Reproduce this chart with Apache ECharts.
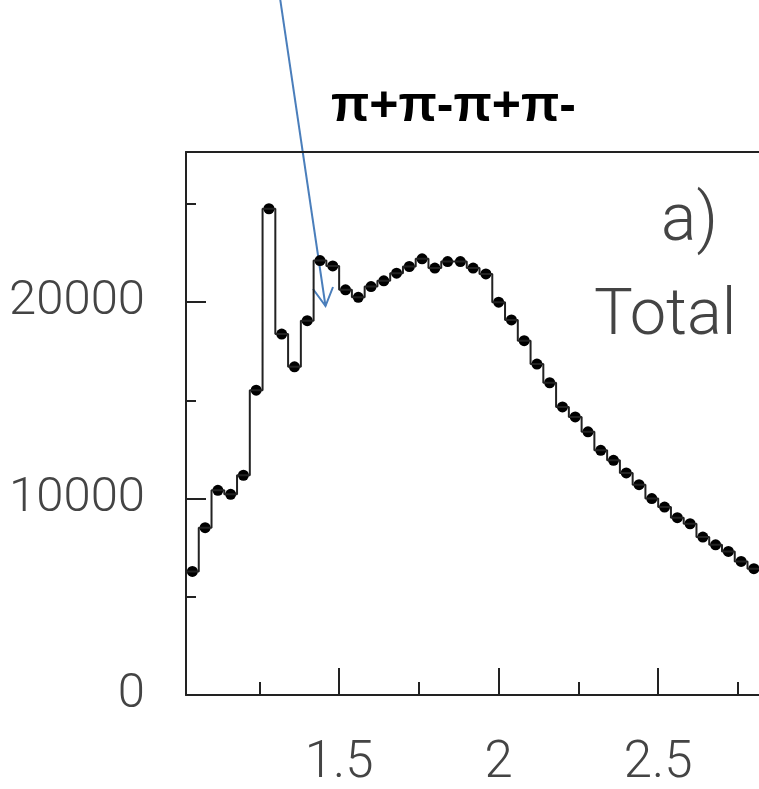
<!DOCTYPE html>
<html lang="en">
<head>
    <meta charset="UTF-8">
    <title>π+π-π+π- Total</title>
    <script src="https://cdn.jsdelivr.net/npm/echarts@6/dist/echarts.min.js"></script>
    <style>
        html, body { margin: 0; padding: 0; background: #fff; }
        #main { width: 759px; height: 789px; }
    </style>
</head>
<body>
<div id="main"></div>
<script type="text/javascript">
    // bin centres (GeV), bin width 0.04
    var binCenters = [1.04, 1.08, 1.12, 1.16, 1.20, 1.24, 1.28, 1.32, 1.36, 1.40,
                      1.44, 1.48, 1.52, 1.56, 1.60, 1.64, 1.68, 1.72, 1.76, 1.80,
                      1.84, 1.88, 1.92, 1.96, 2.00, 2.04, 2.08, 2.12, 2.16, 2.20,
                      2.24, 2.28, 2.32, 2.36, 2.40, 2.44, 2.48, 2.52, 2.56, 2.60,
                      2.64, 2.68, 2.72, 2.76, 2.80];
    var binWidth = 0.04;
    // counts per bin
    var counts = [6290, 8520, 10420, 10220, 11190, 15520, 24760, 18380, 16710, 19060,
                  22120, 21850, 20630, 20250, 20800, 21090, 21480, 21820, 22210, 21740,
                  22070, 22070, 21740, 21440, 20000, 19100, 18040, 16850, 15900, 14670,
                  14160, 13400, 12460, 11950, 11310, 10710, 10000, 9570, 9030, 8720,
                  8040, 7650, 7310, 6800, 6430];
    // tick labels
    var xMajorTicks = [1.5, 2, 2.5];
    var xMinorTicks = [1.25, 1.75, 2.25, 2.75];
    var yMajorTicks = [0, 10000, 20000];
    var yMinorTicks = [5000, 15000, 25000];

    var xMin = 1.02, xMax = 2.816;
    var yMin = 0, yMax = 27650;

    var thinFont = 'Roboto, "Liberation Sans", sans-serif';

    // histogram outline: left edge of every bin, plus the last right edge
    var stepData = binCenters.map(function (c, i) {
        return [c - binWidth / 2, counts[i]];
    });
    stepData.push([binCenters[binCenters.length - 1] + binWidth / 2, counts[counts.length - 1]]);

    var points = binCenters.map(function (c, i) {
        return [c, counts[i]];
    });

    function plain(v) { return String(v); }

    var chart = echarts.init(document.getElementById('main'));
    var option = {
        animation: false,
        backgroundColor: '#fff',
        grid: { left: 186, right: 0, top: 152, bottom: 94, containLabel: false, outerBoundsMode: 'none' },
        xAxis: [
            {
                type: 'value', min: xMin, max: xMax, position: 'bottom',
                splitLine: { show: false },
                axisLine: { lineStyle: { color: '#222', width: 2 } },
                axisTick: { inside: true, length: 27, customValues: xMajorTicks,
                            lineStyle: { color: '#222', width: 2 } },
                axisLabel: { customValues: xMajorTicks, margin: 44, color: '#444',
                             fontFamily: thinFont, fontWeight: 300, fontSize: 51,
                             formatter: plain }
            },
            {
                type: 'value', min: xMin, max: xMax, position: 'bottom',
                splitLine: { show: false },
                axisLine: { show: false },
                axisTick: { inside: true, length: 13, customValues: xMinorTicks,
                            lineStyle: { color: '#222', width: 2 } },
                axisLabel: { show: false }
            },
            {
                // top frame line
                type: 'value', min: xMin, max: xMax, position: 'top',
                splitLine: { show: false },
                axisLine: { lineStyle: { color: '#222', width: 2 } },
                axisTick: { show: false },
                axisLabel: { show: false }
            }
        ],
        yAxis: [
            {
                type: 'value', min: yMin, max: yMax,
                splitLine: { show: false },
                axisLine: { show: true, lineStyle: { color: '#222', width: 2 } },
                axisTick: { show: true, inside: true, length: 20, customValues: yMajorTicks,
                            lineStyle: { color: '#222', width: 2 } },
                axisLabel: { customValues: yMajorTicks, margin: 41, color: '#444',
                             fontFamily: thinFont, fontWeight: 300, fontSize: 49,
                             formatter: plain }
            },
            {
                type: 'value', min: yMin, max: yMax, position: 'left',
                splitLine: { show: false },
                axisLine: { show: false },
                axisTick: { show: true, inside: true, length: 10, customValues: yMinorTicks,
                            lineStyle: { color: '#222', width: 2 } },
                axisLabel: { show: false }
            }
        ],
        series: [
            {
                type: 'line',
                step: 'end',
                data: stepData,
                showSymbol: false,
                symbol: 'none',
                lineStyle: { color: '#222', width: 2 }
            },
            {
                type: 'scatter',
                data: points,
                symbolSize: 11,
                itemStyle: { color: '#000', opacity: 1 }
            }
        ],
        graphic: [
            {
                type: 'text', left: 331, top: 82,
                style: { text: 'π+π-π+π-', fill: '#000',
                         font: 'bold 50px "Liberation Sans", sans-serif' }
            },
            {
                type: 'text', left: 661, top: 190,
                style: { text: 'a)', fill: '#444', font: '300 66px ' + thinFont }
            },
            {
                type: 'text', left: 594, top: 285,
                style: { text: 'Total', fill: '#444', font: '300 65px ' + thinFont }
            },
            {
                // blue annotation arrow
                type: 'group',
                children: [
                    { type: 'line', shape: { x1: 280, y1: -2, x2: 325.5, y2: 306 },
                      style: { stroke: '#4a7ebb', lineWidth: 2 } },
                    { type: 'polyline', shape: { points: [[313, 289], [325.5, 306], [333, 287]] },
                      style: { stroke: '#4a7ebb', lineWidth: 2, fill: null } }
                ]
            }
        ]
    };
    chart.setOption(option);
</script>
</body>
</html>
